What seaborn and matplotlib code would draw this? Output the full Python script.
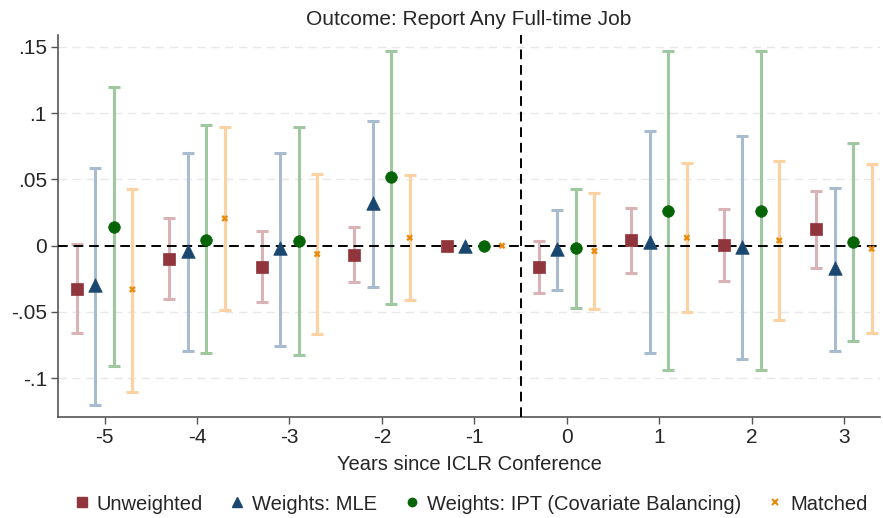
import numpy as np
import pandas as pd
import matplotlib
matplotlib.use("Agg")
import matplotlib.pyplot as plt
from matplotlib.lines import Line2D
import seaborn as sns

years = [-5, -4, -3, -2, -1, 0, 1, 2, 3]
series = ["Unweighted", "Weights: MLE", "Weights: IPT (Covariate Balancing)", "Matched"]

unw_est = [-0.0327, -0.0103, -0.0161, -0.0070, 0.0, -0.0161, 0.0043, 0.0005, 0.0126]
unw_lo = [-0.066, -0.0405, -0.0428, -0.0274, np.nan, -0.0355, -0.0204, -0.0267, -0.0166]
unw_hi = [0.001, 0.0206, 0.0111, 0.0138, np.nan, 0.0033, 0.0287, 0.0274, 0.0413]

mle_est = [-0.0300, -0.0043, -0.0020, 0.0320, 0.0, -0.0028, 0.0030, -0.0008, -0.0170]
mle_lo = [-0.120, -0.0798, -0.0755, -0.031, np.nan, -0.0337, -0.0808, -0.0853, -0.0793]
mle_hi = [0.059, 0.0697, 0.0697, 0.094, np.nan, 0.0267, 0.0868, 0.0825, 0.0438]

ipt_est = [0.0140, 0.0045, 0.0035, 0.0516, 0.0, -0.0020, 0.0264, 0.0264, 0.0028]
ipt_lo = [-0.091, -0.0813, -0.0823, -0.044, np.nan, -0.0473, -0.094, -0.0936, -0.0722]
ipt_hi = [0.120, 0.0908, 0.0896, 0.147, np.nan, 0.043, 0.147, 0.147, 0.0775]

mat_est = [-0.0330, 0.0206, -0.0063, 0.0060, 0.0, -0.0040, 0.0060, 0.0040, -0.0023]
mat_lo = [-0.110, -0.0486, -0.0669, -0.041, np.nan, -0.048, -0.0503, -0.0559, -0.066]
mat_hi = [0.043, 0.0896, 0.0544, 0.053, np.nan, 0.0398, 0.0627, 0.0642, 0.0617]

y_ticks = [-0.1, -0.05, 0, 0.05, 0.1, 0.15]
y_ticklabels = ["-.1", "-.05", "0", ".05", ".1", ".15"]

offsets = [-0.3, -0.1, 0.1, 0.3]
marker_colors = ["#90353b", "#1a476f", "#056405", "#ea8a0c"]
ci_colors = ["#d9b3b6", "#a9bccf", "#a0c8a0", "#fcd2a3"]
markers = ["s", "^", "o", "X"]
msizes = [85, 95, 70, 24]

ests = [unw_est, mle_est, ipt_est, mat_est]
los = [unw_lo, mle_lo, ipt_lo, mat_lo]
his = [unw_hi, mle_hi, ipt_hi, mat_hi]

rows = []
for s, off, e, lo, hi in zip(series, offsets, ests, los, his):
    for yr, ee, l, h in zip(years, e, lo, hi):
        rows.append(dict(series=s, year=yr, x=yr + off, est=ee, lo=l, hi=h))
df = pd.DataFrame(rows)

sns.set_theme(style="white")
plt.rcParams["font.family"] = ["Liberation Sans", "DejaVu Sans"]

fig = plt.figure(figsize=(8.83, 5.18), dpi=100)
ax = fig.add_axes([0.0657, 0.1956, 0.9309, 0.7368])

for y in y_ticks:
    if y != 0:
        ax.axhline(y, color="#e8e8e8", lw=1.0, ls=(0, (6, 4)), zorder=0)

for s, cc in zip(series, ci_colors):
    d = df[(df.series == s) & df.lo.notna()]
    ax.errorbar(d.x, (d.lo + d.hi) / 2, yerr=(d.hi - d.lo) / 2, fmt="none",
                ecolor=cc, elinewidth=2.2, capsize=4.0, capthick=2.2, zorder=2)

ax.axhline(0, color="black", lw=1.4, ls=(0, (5, 3)), zorder=3)
ax.axvline(-0.5, color="black", lw=1.4, ls=(0, (5, 3)), zorder=3)

for s, mc, m, ms in zip(series, marker_colors, markers, msizes):
    d = df[df.series == s]
    sns.scatterplot(data=d, x="x", y="est", ax=ax, marker=m, s=ms, color=mc,
                    edgecolor=mc if m != "X" else "none", linewidth=0.5, zorder=4, legend=False)

ax.set_xlim(-5.505, 3.39)
ax.set_ylim(-0.129, 0.159)
ax.set_xticks(years)
ax.set_xticklabels([str(y) for y in years], fontsize=15)
ax.set_yticks(y_ticks)
ax.set_yticklabels(y_ticklabels, fontsize=15)
ax.tick_params(axis="both", direction="out", length=5, width=1, color="#555555",
               left=True, bottom=True, pad=3)
for side in ["top", "right"]:
    ax.spines[side].set_visible(False)
for side in ["left", "bottom"]:
    ax.spines[side].set_color("#555555")
    ax.spines[side].set_linewidth(1.2)
ax.set_xlabel("Years since ICLR Conference", fontsize=14.5, labelpad=6)
ax.set_ylabel("")
ax.set_title("Outcome: Report Any Full-time Job", fontsize=15, pad=7)

handles = [Line2D([0], [0], marker=m, ls="none", color=c, markeredgecolor=c,
                  markersize=sz) for m, c, sz in zip(["s", "^", "o", "x"], marker_colors, [7, 7, 6, 4])]
handles[3].set_markeredgewidth(1.5)
fig.legend(handles, series, loc="center", bbox_to_anchor=(0.533, 0.027), ncol=4,
           frameon=False, fontsize=14.5, handletextpad=0.35, columnspacing=1.3,
           handlelength=0.8)

fig.savefig("out.png", dpi=100)
